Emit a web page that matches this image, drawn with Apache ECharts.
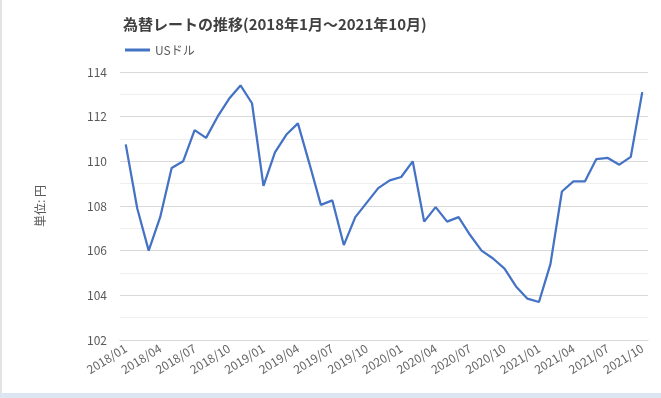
<!DOCTYPE html>
<html>
<head>
<meta charset="utf-8">
<script src="https://cdn.jsdelivr.net/npm/echarts@6/dist/echarts.min.js"></script>
<style>
  html, body { margin: 0; padding: 0; background: #fff; }
  #chart { width: 661px; height: 398px; }
</style>
</head>
<body>
<div id="chart"></div>
<script>
  // 月次の為替レート (USドル/円)
  var months = [
    '2018/01', '2018/02', '2018/03', '2018/04', '2018/05', '2018/06',
    '2018/07', '2018/08', '2018/09', '2018/10', '2018/11', '2018/12',
    '2019/01', '2019/02', '2019/03', '2019/04', '2019/05', '2019/06',
    '2019/07', '2019/08', '2019/09', '2019/10', '2019/11', '2019/12',
    '2020/01', '2020/02', '2020/03', '2020/04', '2020/05', '2020/06',
    '2020/07', '2020/08', '2020/09', '2020/10', '2020/11', '2020/12',
    '2021/01', '2021/02', '2021/03', '2021/04', '2021/05', '2021/06',
    '2021/07', '2021/08', '2021/09', '2021/10'
  ];
  var usd = [
    110.76, 107.9, 106.0, 107.5, 109.7, 110.0,
    111.4, 111.05, 112.0, 112.8, 113.4, 112.6,
    108.9, 110.4, 111.2, 111.7, 109.9, 108.05,
    108.25, 106.25, 107.5, 108.15, 108.8, 109.15,
    109.3, 110.0, 107.3, 107.95, 107.3, 107.5,
    106.7, 106.0, 105.65, 105.2, 104.4, 103.85,
    103.7, 105.4, 108.65, 109.1, 109.1, 110.1,
    110.15, 109.85, 110.2, 113.1
  ];
  var yTicks = { min: 102, max: 114, interval: 2 };

  var font = '"Noto Sans CJK JP", "Noto Sans", sans-serif';
  var chart = echarts.init(document.getElementById('chart'));

  var option = {
    backgroundColor: '#ffffff',
    animation: false,
    textStyle: { fontFamily: font },
    title: {
      text: '為替レートの推移(2018年1月～2021年10月)',
      left: 118,
      top: 12,
      textStyle: { fontFamily: font, fontSize: 15, fontWeight: 'bold', color: '#404040' }
    },
    legend: {
      left: 120,
      top: 39,
      itemWidth: 25,
      itemHeight: 3,
      itemGap: 6,
      textStyle: { fontFamily: font, fontSize: 12, color: '#595959' },
      data: [{ name: 'USドル', icon: 'rect' }]
    },
    grid: { left: 120, right: 13, top: 72, bottom: 58 },
    xAxis: {
      type: 'category',
      data: months,
      boundaryGap: true,
      axisTick: { show: false },
      axisLine: { lineStyle: { color: '#d9d9d9', width: 1 } },
      axisLabel: {
        interval: 2,
        rotate: 32,
        margin: 7,
        fontFamily: font,
        fontSize: 12,
        color: '#666666'
      }
    },
    yAxis: {
      type: 'value',
      min: yTicks.min,
      max: yTicks.max,
      interval: yTicks.interval,
      name: '単位: 円',
      nameLocation: 'middle',
      nameGap: 74,
      nameRotate: 90,
      nameTextStyle: { fontFamily: font, fontSize: 12, color: '#595959' },
      axisLine: { show: false },
      axisTick: { show: false },
      axisLabel: { margin: 13, fontFamily: font, fontSize: 12, color: '#595959' },
      splitLine: { lineStyle: { color: '#d9d9d9', width: 1 } },
      minorTick: { show: false, splitNumber: 2 },
      minorSplitLine: { show: true, lineStyle: { color: '#efefef', width: 1 } }
    },
    series: [
      {
        name: 'USドル',
        type: 'line',
        data: usd,
        symbol: 'none',
        smooth: false,
        itemStyle: { color: '#4472c4' },
        lineStyle: { color: '#4472c4', width: 2.25 }
      }
    ],
    graphic: [
      { type: 'rect', left: 0, top: 0, shape: { width: 2, height: 398 }, style: { fill: '#e3e3e3' } },
      { type: 'rect', left: 0, top: 393, shape: { width: 661, height: 5 }, style: { fill: '#dce6f2' } }
    ]
  };

  chart.setOption(option);
</script>
</body>
</html>
